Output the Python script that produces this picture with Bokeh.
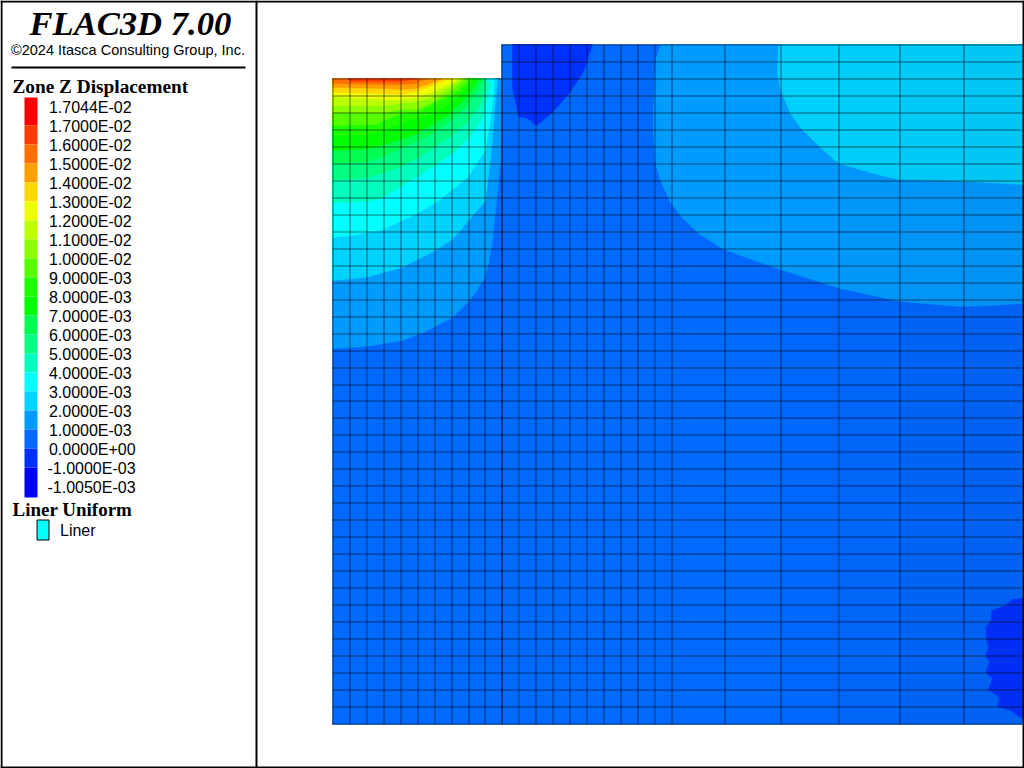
from bokeh.plotting import figure
from bokeh.models import Range1d
from bokeh.core.properties import value
from bokeh.embed import file_html
from bokeh.resources import INLINE

# ---------- legend ----------
legend_labels = ["1.7044E-02","1.7000E-02","1.6000E-02","1.5000E-02","1.4000E-02","1.3000E-02",
                 "1.2000E-02","1.1000E-02","1.0000E-02","9.0000E-03","8.0000E-03","7.0000E-03",
                 "6.0000E-03","5.0000E-03","4.0000E-03","3.0000E-03","2.0000E-03","1.0000E-03",
                 "0.0000E+00","-1.0000E-03","-1.0050E-03"]
band_colors = ["#ff0000","#ff3c00","#ff6e00","#ffa000","#ffd700","#f0ff00","#beff00","#8cff00",
               "#55ff00","#1eff00","#00ff00","#00ff50","#00ff82","#00ffbe","#00ffff","#00d2ff",
               "#009bff","#0069ff","#0032ff","#0000ff"]
legend_edges = [97,125,144,163,182,201,220,239,258,277,296,315,334,353,372,391,410,429,448,467,497]
legend_label_y = [107,126,145,164,183,202,221,240,259,278,297,316,335,354,373,392,411,430,449,468,487]

# ---------- mesh ----------
mesh_x = [332,349,366,383,400,417,434,451,468,484,501,518,535,552,569,586,603,620,637,654,671,724,780,838,899,963]
mesh_y = [44,61,78,95,112,129,146,163,180,197,214,231,248,265,282,299,316,333,350,367,384,400,417,
          434,451,468,485,502,519,536,553,570,587,604,621,638,655,672,689,706,723]

# ---------- contour regions: (x list, y list), painted from lowest level up ----------
outline_x = [332,501,501,1022,1022,332]
outline_y = [78,78,44,44,724,724]

lvl_01_left = ([332,501,500,495,491,488,484,470,452,425,402,365,332],
               [78,78,160,210,246,263,278,299,317,331,340,346,348])
lvl_02_left = ([332,497,493,490,485,475,453,435,402,365,332],
               [78,78,126,159,201,212,238,250,267,277,280])
lvl_03_left = ([332,494,493,489,485,468,437,417,380,350,332],
               [78,78,93,126,149,176,201,213,230,235,237])
lvl_04_left = ([332,491,487,482,468,452,433,400,383,367,332],
               [78,82,96,118,138,153,166,186,197,201,202])
lvl_05_left = ([332,487,485,480,468,450,420,400,390,367,332],
               [78,78,83,103,121,136,156,166,170,177,180])
lvl_06_left = ([332,483,478,468,453,433,400,385,363,332],
               [78,78,88,104,118,133,148,155,162,163])
lvl_07_left = ([332,478,467,450,417,400,370,332],
               [78,78,96,113,133,139,148,150])
lvl_08_left = ([332,474,468,452,433,400,370,332],
               [78,78,86,101,113,123,134,135])
lvl_09_left = ([332,470,467,452,433,418,400,375,332],
               [78,78,81,94,103,111,113,124,125])
lvl_10_left = ([332,464,463,452,433,417,400,385,332],
               [78,78,79,89,101,108,109,112,112])
lvl_11_left = ([332,461,460,450,433,417,400,385,332],
               [78,78,79,86,96,101,103,105,105])
lvl_12_left = ([332,458,457,447,433,417,400,385,332],
               [78,78,79,84,91,97,99,99,96])
lvl_13_left = ([332,452,445,433,417,400,385,332],
               [78,78,80,85,91,94,93,92])
lvl_14_left = ([332,442,440,430,415,400,385,332],
               [78,78,79,83,88,89,88,87])
lvl_15_left = ([332,430,425,415,400,385,332],
               [78,78,79,83,84,84,83])
lvl_16_left = ([347,417,400,350],
               [78,78,81,81])

lvl_01_right = ([660,655,653,653,655,660,670,680,697,723,780,840,900,960,990,1022,1022],
                [44,60,107,137,163,180,202,215,232,249,269,288,301,306,305,303,44])
lvl_02_right = ([778,777,780,790,800,820,838,873,898,950,1022,1022],
                [44,73,90,113,127,147,163,173,179,180,184,44])
lvl_00_hump = ([512,512,515,518,527,536,552,570,583,592],
               [44,88,101,116,118,125,112,91,71,44])
lvl_00_corner = ([1022,1011,1005,991,991,985,986,988,985,989,985,992,988,999,997,1010,1022],
                 [598,599,605,610,620,627,638,647,655,662,672,678,689,697,706,710,718])

regions = [
    (outline_x, outline_y, 17),
    (*lvl_00_hump, 18), (*lvl_00_corner, 18),
    (*lvl_01_right, 16), (*lvl_02_right, 15),
    (*lvl_01_left, 16), (*lvl_02_left, 15), (*lvl_03_left, 14), (*lvl_04_left, 13),
    (*lvl_05_left, 12), (*lvl_06_left, 11), (*lvl_07_left, 10), (*lvl_08_left, 9),
    (*lvl_09_left, 8), (*lvl_10_left, 7), (*lvl_11_left, 6), (*lvl_12_left, 5),
    (*lvl_13_left, 4), (*lvl_14_left, 3), (*lvl_15_left, 2), (*lvl_16_left, 1),
]

p = figure(width=1024, height=768, output_backend="svg", toolbar_location=None,
           x_range=Range1d(0, 1024), y_range=Range1d(768, 0),
           x_axis_type=None, y_axis_type=None, min_border=0)
p.grid.visible = False
p.outline_line_color = None
p.background_fill_color = "white"

# contours
for xs, ys, idx in regions:
    p.patch(xs, ys, fill_color=band_colors[idx], line_color=band_colors[idx], line_width=0.5)

# faint lighting falloff toward the right side of the model
shade_left = [780, 840, 900, 960]
p.quad(left=shade_left, right=[1022]*4, top=[44]*4, bottom=[724]*4,
       fill_color="black", fill_alpha=0.012, line_color=None)

# mesh
GRID = "#000000"
x0, x1, y0, y1 = [], [], [], []
for x in mesh_x:
    top = 44 if x >= 501 else 78
    x0.append(x + .5); x1.append(x + .5); y0.append(top); y1.append(724)
p.segment(x0, y0, x1, y1, line_color=GRID, line_alpha=0.55, line_width=1)
x0, x1, y0, y1 = [], [], [], []
for y in mesh_y:
    left = 501 if y < 78 else 332
    x0.append(left); x1.append(1022); y0.append(y + .5); y1.append(y + .5)
p.segment(x0, y0, x1, y1, line_color=GRID, line_alpha=0.55, line_width=1)
p.segment([501.5], [78], [501.5], [724], line_color=GRID, line_alpha=0.55, line_width=1)

# legend panel
p.quad(left=[24]*20, right=[37]*20, top=legend_edges[:-1], bottom=legend_edges[1:],
       fill_color=band_colors, line_color=None)
p.text(x=[47 if s.startswith("-") else 48.4 for s in legend_labels], y=legend_label_y, text=legend_labels,
       text_font=value("Liberation Sans"), text_font_size="16px", text_baseline="middle",
       text_align="left", text_color="black")

p.text(x=[29], y=[22], text=["FLAC3D 7.00"], text_font=value("Liberation Serif"),
       text_font_style="bold italic", text_font_size="34.6px", text_baseline="middle", text_color="black")
p.text(x=[10.5], y=[49], text=["©2024 Itasca Consulting Group, Inc."], text_font=value("Liberation Sans"),
       text_font_size="14.5px", text_baseline="middle", text_color="black")
p.segment([11], [67], [245], [67], line_color="black", line_width=2)
p.text(x=[12], y=[86], text=["Zone Z Displacement"], text_font=value("Liberation Serif"),
       text_font_style="bold", text_font_size="19.3px", text_baseline="middle", text_color="black")
p.text(x=[12], y=[509], text=["Liner Uniform"], text_font=value("Liberation Serif"),
       text_font_style="bold", text_font_size="19px", text_baseline="middle", text_color="black")
p.quad(left=[36.5], right=[48.5], top=[519.5], bottom=[539.5], fill_color="#00ffff", line_color="black", line_width=1)
p.text(x=[59.5], y=[530], text=["Liner"], text_font=value("Liberation Sans"), text_font_size="16px",
       text_baseline="middle", text_color="black")

# frame
p.quad(left=[0,1022,0,0,255], right=[2,1024,1024,1024,257], top=[0,0,0,766,0], bottom=[768,768,2,768,768],
       fill_color="black", line_color=None)

open("out.html", "w").write(file_html(p, INLINE))
